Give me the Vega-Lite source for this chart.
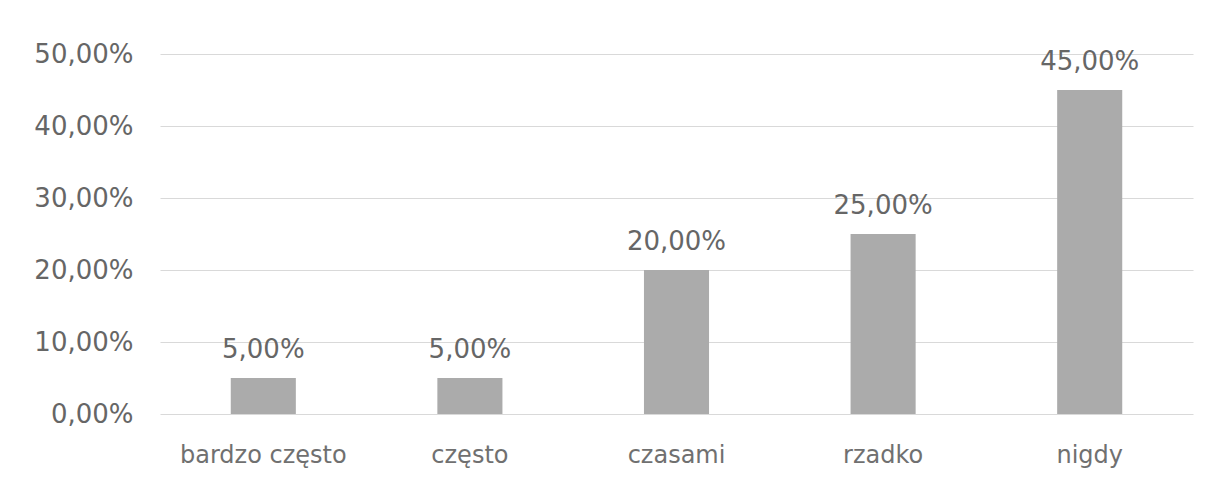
{
  "$schema": "https://vega.github.io/schema/vega-lite/v6.json",
  "width": 1033,
  "height": 360,
  "autosize": {"type": "none"},
  "padding": {"left": 160, "top": 54, "right": 24, "bottom": 67},
  "background": "white",
  "config": {
    "locale": {"number": {"decimal": ",", "thousands": " ", "grouping": [3], "currency": ["", " zł"]}},
    "view": {"stroke": null},
    "font": "DejaVu Sans"
  },
  "data": {
    "values": [
      {"kategoria": "bardzo często", "wartosc": 0.05},
      {"kategoria": "często", "wartosc": 0.05},
      {"kategoria": "czasami", "wartosc": 0.20},
      {"kategoria": "rzadko", "wartosc": 0.25},
      {"kategoria": "nigdy", "wartosc": 0.45}
    ]
  },
  "encoding": {
    "x": {
      "field": "kategoria",
      "type": "nominal",
      "sort": null,
      "scale": {"paddingInner": 0.685, "paddingOuter": 0.3425},
      "axis": {
        "title": null,
        "labelAngle": 0,
        "labelFont": "DejaVu Sans",
        "labelFontSize": 24,
        "labelColor": "#707070",
        "labelPadding": 29,
        "ticks": false,
        "domain": false
      }
    },
    "y": {
      "field": "wartosc",
      "type": "quantitative",
      "scale": {"domain": [0, 0.5]},
      "axis": {
        "title": null,
        "format": ".2%",
        "values": [0, 0.1, 0.2, 0.3, 0.4, 0.5],
        "labelFont": "DejaVu Sans",
        "labelFontSize": 26,
        "labelColor": "#666666",
        "labelPadding": 27,
        "ticks": false,
        "domain": false,
        "gridColor": "#d9d9d9",
        "gridWidth": 1
      }
    }
  },
  "layer": [
    {"mark": {"type": "bar", "color": "#ababab"}},
    {
      "mark": {"type": "text", "baseline": "alphabetic", "dy": -20, "fontSize": 26, "font": "DejaVu Sans", "color": "#666666"},
      "encoding": {"text": {"field": "wartosc", "type": "quantitative", "format": ".2%"}}
    }
  ]
}
